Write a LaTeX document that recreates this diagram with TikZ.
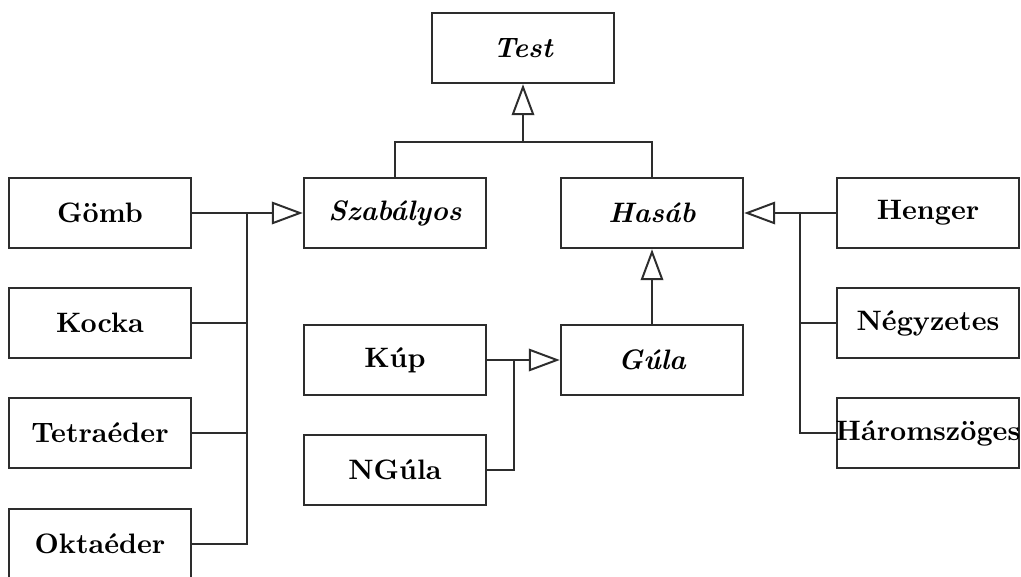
\documentclass[tikz,border=0pt]{standalone}
\usetikzlibrary{arrows.meta}
\definecolor{vonal}{HTML}{2D2D2D}

\begin{document}
\begin{tikzpicture}[x=0.0125cm, y=-0.0125cm,
    oszt/.style={rectangle, draw=vonal, line width=0.7pt, minimum width=2.28cm,
      minimum height=0.88cm, inner sep=1pt, align=center, font=\bfseries, text=black},
    absz/.style={oszt, font=\bfseries\itshape},
    ar/.style={-{Triangle[open, length=11pt, width=8pt]}, line width=0.7pt, vonal},
    ln/.style={line width=0.7pt, vonal}]
    \useasboundingbox (0,0) rectangle (1021,577);
    \clip (0,0) rectangle (1021,577);
    \node[absz] (test) at (523,48) {Test};
    \node[absz] (szab) at (395,213) {Szabályos};
    \node[absz] (hasab) at (652,213) {Hasáb};
    \node[absz] (gula) at (652,360) {Gúla};
    \node[oszt] (gomb) at (100,213) {Gömb};
    \node[oszt] (kocka) at (100,323) {Kocka};
    \node[oszt] (tetra) at (100,433) {Tetraéder};
    \node[oszt] (okta) at (100,544) {Oktaéder};
    \node[oszt] (kup) at (395,360) {Kúp};
    \node[oszt] (ngula) at (395,470) {NGúla};
    \node[oszt] (henger) at (928,213) {Henger};
    \node[oszt] (negyz) at (928,323) {Négyzetes};
    \node[oszt, inner xsep=-1.5pt] (harom) at (928,433) {Háromszöges};
    \coordinate (tfel) at (523,142);
    \coordinate (bal) at (247,213);
    \coordinate (jobb) at (800,213);
    \coordinate (kozep) at (514,360);
    % Test
    \draw[ln] (szab.north) |- (tfel) -| (hasab.north);
    \draw[ar] (tfel) -- (test);
    % Szabalyos
    \draw[ar] (gomb) -- (szab);
    \draw[ln] (kocka) -| (bal);
    \draw[ln] (tetra) -| (bal);
    \draw[ln] (okta) -| (bal);
    % Hasab
    \draw[ar] (henger) -- (hasab);
    \draw[ln] (negyz) -| (jobb);
    \draw[ln] (harom) -| (jobb);
    \draw[ar] (gula) -- (hasab);
    % Gula
    \draw[ar] (kup) -- (gula);
    \draw[ln] (ngula) -| (kozep);
  \end{tikzpicture}
\end{document}
